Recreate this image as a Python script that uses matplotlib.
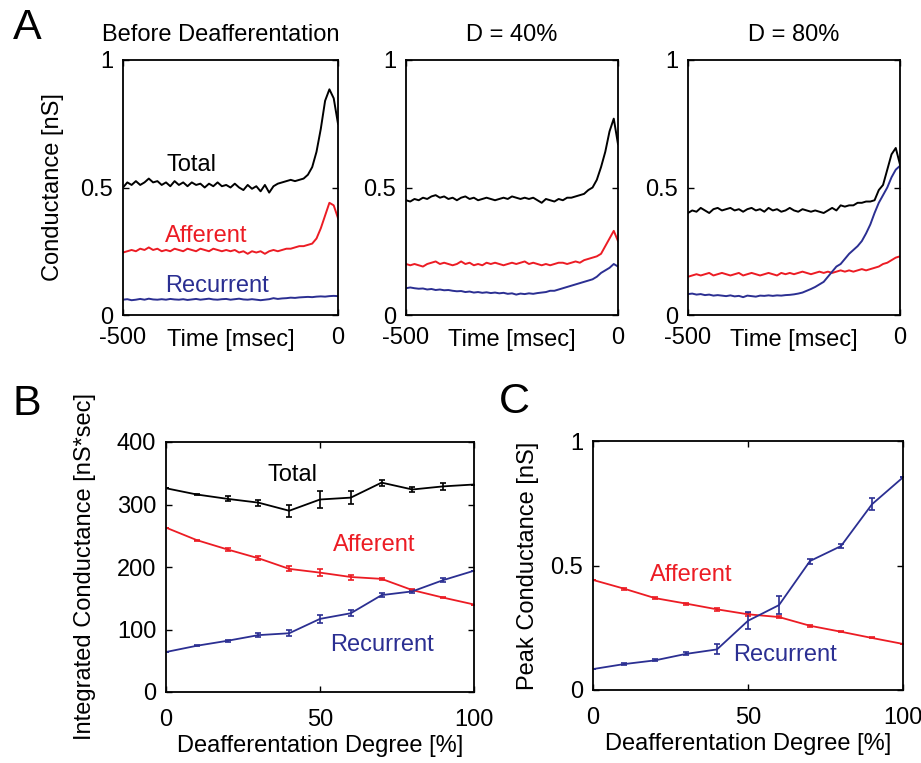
import numpy as np
import matplotlib
matplotlib.use('Agg')
import matplotlib.pyplot as plt

plt.rcParams['font.family'] = ['Liberation Sans', 'DejaVu Sans']
plt.rcParams['font.size'] = 17

RED = '#ec1c24'
BLUE = '#2b2f92'

# ---- panel A: conductance traces, sampled every 10 ms from -500 to 0 ----
t = list(range(-500, 1, 10))

total_pre = [0.50, 0.52, 0.51, 0.525, 0.51, 0.52, 0.535, 0.52, 0.525, 0.51,
             0.52, 0.505, 0.525, 0.51, 0.52, 0.505, 0.52, 0.51, 0.515, 0.50,
             0.515, 0.505, 0.52, 0.505, 0.51, 0.50, 0.515, 0.50, 0.49, 0.51,
             0.495, 0.505, 0.485, 0.51, 0.48, 0.505, 0.515, 0.52, 0.525, 0.53,
             0.525, 0.53, 0.535, 0.55, 0.58, 0.64, 0.73, 0.84, 0.885, 0.85, 0.75]
aff_pre = [0.245, 0.25, 0.255, 0.25, 0.26, 0.255, 0.265, 0.255, 0.26, 0.25,
           0.255, 0.25, 0.26, 0.255, 0.25, 0.26, 0.255, 0.25, 0.26, 0.255,
           0.25, 0.26, 0.255, 0.25, 0.255, 0.25, 0.255, 0.245, 0.25, 0.24,
           0.25, 0.245, 0.25, 0.24, 0.25, 0.255, 0.25, 0.255, 0.26, 0.26,
           0.265, 0.27, 0.27, 0.275, 0.28, 0.30, 0.34, 0.39, 0.44, 0.43, 0.38]
rec_pre = [0.06, 0.062, 0.058, 0.06, 0.063, 0.06, 0.064, 0.061, 0.06, 0.062,
           0.06, 0.063, 0.061, 0.06, 0.062, 0.059, 0.061, 0.063, 0.06, 0.062,
           0.064, 0.061, 0.06, 0.062, 0.063, 0.06, 0.062, 0.064, 0.061, 0.06,
           0.062, 0.06, 0.058, 0.06, 0.062, 0.066, 0.063, 0.065, 0.066, 0.068,
           0.067, 0.069, 0.07, 0.071, 0.07, 0.072, 0.073, 0.072, 0.074, 0.075, 0.074]

total_40 = [0.45, 0.445, 0.455, 0.45, 0.46, 0.455, 0.465, 0.47, 0.46, 0.465,
            0.455, 0.46, 0.45, 0.46, 0.465, 0.455, 0.46, 0.45, 0.455, 0.46,
            0.455, 0.45, 0.455, 0.46, 0.455, 0.465, 0.46, 0.455, 0.46, 0.455,
            0.46, 0.45, 0.44, 0.455, 0.45, 0.445, 0.455, 0.45, 0.46, 0.46,
            0.465, 0.47, 0.475, 0.49, 0.50, 0.53, 0.58, 0.64, 0.72, 0.77, 0.67]
aff_40 = [0.20, 0.195, 0.2, 0.195, 0.19, 0.2, 0.205, 0.21, 0.2, 0.205,
          0.2, 0.195, 0.2, 0.21, 0.2, 0.205, 0.195, 0.2, 0.195, 0.205,
          0.2, 0.205, 0.2, 0.195, 0.2, 0.205, 0.2, 0.205, 0.21, 0.2,
          0.205, 0.2, 0.195, 0.2, 0.195, 0.2, 0.205, 0.205, 0.2, 0.205,
          0.21, 0.205, 0.215, 0.22, 0.225, 0.23, 0.24, 0.27, 0.30, 0.33, 0.29]
rec_40 = [0.105, 0.108, 0.105, 0.103, 0.104, 0.1, 0.102, 0.098, 0.1, 0.097,
          0.098, 0.095, 0.093, 0.094, 0.09, 0.092, 0.088, 0.09, 0.087, 0.089,
          0.086, 0.088, 0.085, 0.087, 0.083, 0.085, 0.08, 0.084, 0.082, 0.085,
          0.083, 0.086, 0.088, 0.09, 0.095, 0.095, 0.1, 0.105, 0.11, 0.115,
          0.12, 0.125, 0.13, 0.135, 0.14, 0.15, 0.165, 0.175, 0.185, 0.2, 0.19]

total_80 = [0.40, 0.41, 0.405, 0.42, 0.41, 0.40, 0.415, 0.42, 0.41, 0.415,
            0.42, 0.41, 0.415, 0.405, 0.415, 0.42, 0.41, 0.415, 0.405, 0.42,
            0.41, 0.415, 0.405, 0.41, 0.42, 0.41, 0.405, 0.415, 0.41, 0.405,
            0.41, 0.405, 0.40, 0.41, 0.42, 0.41, 0.43, 0.425, 0.43, 0.43,
            0.44, 0.44, 0.445, 0.445, 0.45, 0.49, 0.51, 0.57, 0.63, 0.655, 0.59]
aff_80 = [0.15, 0.155, 0.16, 0.155, 0.16, 0.165, 0.155, 0.16, 0.165, 0.16,
          0.155, 0.16, 0.165, 0.155, 0.16, 0.165, 0.16, 0.155, 0.16, 0.165,
          0.16, 0.155, 0.165, 0.16, 0.165, 0.16, 0.165, 0.17, 0.165, 0.16,
          0.165, 0.17, 0.165, 0.17, 0.165, 0.17, 0.175, 0.17, 0.175, 0.17,
          0.175, 0.18, 0.175, 0.18, 0.185, 0.19, 0.2, 0.205, 0.215, 0.225, 0.23]
rec_80 = [0.082, 0.084, 0.08, 0.082, 0.078, 0.08, 0.076, 0.078, 0.076, 0.074,
          0.077, 0.073, 0.075, 0.07, 0.076, 0.074, 0.072, 0.076, 0.075, 0.077,
          0.075, 0.077, 0.076, 0.078, 0.079, 0.081, 0.084, 0.088, 0.095, 0.102,
          0.11, 0.12, 0.13, 0.15, 0.17, 0.19, 0.20, 0.22, 0.24, 0.255,
          0.27, 0.29, 0.32, 0.355, 0.40, 0.44, 0.47, 0.50, 0.54, 0.57, 0.585]

titles_a = ['Before Deafferentation', 'D = 40%', 'D = 80%']

# ---- panels B, C: vs deafferentation degree ----
degree = [0, 10, 20, 30, 40, 50, 60, 70, 80, 90, 100]

int_total = [326, 316, 309, 303, 290, 308, 311, 335, 324, 329, 332]
int_total_err = [0, 1, 4, 5, 10, 14, 10, 5, 4, 6, 0]
int_aff = [263, 243, 228, 214, 197, 191, 184, 181, 163, 151, 140]
int_aff_err = [0, 1, 2, 3, 4, 6, 4, 2, 2, 1, 0]
int_rec = [64, 74, 82, 91, 94, 117, 126, 155, 161, 179, 194]
int_rec_err = [0, 1, 2, 3, 5, 6, 5, 3, 2, 3, 0]

peak_aff = [0.442, 0.407, 0.369, 0.347, 0.324, 0.304, 0.293, 0.258, 0.234, 0.209, 0.185]
peak_aff_err = [0, 0.004, 0.004, 0.004, 0.005, 0.006, 0.005, 0.003, 0.003, 0.002, 0]
peak_rec = [0.084, 0.104, 0.119, 0.145, 0.163, 0.278, 0.341, 0.518, 0.578, 0.746, 0.854]
peak_rec_err = [0, 0.003, 0.004, 0.006, 0.02, 0.035, 0.037, 0.01, 0.008, 0.025, 0]

W, H = 921, 763
fig = plt.figure(figsize=(W / 100, H / 100), dpi=100)


def px_axes(x0, x1, y0, y1):
    return fig.add_axes([x0 / W, 1 - y1 / H, (x1 - x0) / W, (y1 - y0) / H])


def style(ax):
    for s in ax.spines.values():
        s.set_linewidth(1.3)
    ax.tick_params(direction='in', length=4, width=1, top=True, right=True,
                   labelsize=17, pad=7)


traces = [(total_pre, aff_pre, rec_pre), (total_40, aff_40, rec_40),
          (total_80, aff_80, rec_80)]
xs = [(123, 338), (406, 618), (688, 900)]
axA = []
for i, ((tot, aff, rec), (x0, x1)) in enumerate(zip(traces, xs)):
    ax = px_axes(x0, x1, 60, 315)
    ax.plot(t, tot, color='black', lw=1.4)
    ax.plot(t, aff, color=RED, lw=1.4)
    ax.plot(t, rec, color=BLUE, lw=1.4)
    ax.set_xlim(-500, 0)
    ax.set_ylim(0, 1)
    ax.set_xticks([-500, 0])
    ax.set_xticklabels(['-500', '0'])
    ax.set_yticks([0, 0.5, 1])
    ax.set_yticklabels(['0', '0.5', '1'])
    style(ax)
    ax.tick_params(axis='x', pad=9)
    ax.set_xlabel('Time [msec]', va='center')
    ax.xaxis.set_label_coords(0.5, -25 / 255)
    ax.set_title(titles_a[i], fontsize=17, pad=14)
    axA.append(ax)

axA[0].set_ylabel('Conductance [nS]', labelpad=12)
axA[0].title.set_x(0.456)
axA[0].text(-400, 0.59, 'Total', color='black', va='center', fontsize=17)
axA[0].text(-402, 0.31, 'Afferent', color=RED, va='center', fontsize=17)
axA[0].text(-402, 0.114, 'Recurrent', color=BLUE, va='center', fontsize=17)

eb = dict(lw=1.3, elinewidth=1.2, capsize=2.5, capthick=1.2)

# panel B
axB = px_axes(166, 474, 442, 692)
axB.errorbar(degree, int_total, yerr=int_total_err, color='black', **eb)
axB.errorbar(degree, int_aff, yerr=int_aff_err, color=RED, **eb)
axB.errorbar(degree, int_rec, yerr=int_rec_err, color=BLUE, **eb)
axB.set_xlim(0, 100)
axB.set_ylim(0, 400)
axB.set_xticks([0, 50, 100])
axB.set_yticks([0, 100, 200, 300, 400])
style(axB)
axB.tick_params(axis='x', pad=12)
axB.set_xlabel('Deafferentation Degree [%]', labelpad=3)
axB.set_ylabel('Integrated Conductance [nS*sec]', labelpad=15)
axB.text(32.8, 347, 'Total', color='black', va='center', fontsize=17)
axB.text(54.2, 235, 'Afferent', color=RED, va='center', fontsize=17)
axB.text(53.2, 75, 'Recurrent', color=BLUE, va='center', fontsize=17)

# panel C
axC = px_axes(593, 903, 441, 690)
axC.errorbar(degree, peak_aff, yerr=peak_aff_err, color=RED, **eb)
axC.errorbar(degree, peak_rec, yerr=peak_rec_err, color=BLUE, **eb)
axC.set_xlim(0, 100)
axC.set_ylim(0, 1)
axC.set_xticks([0, 50, 100])
axC.set_yticks([0, 0.5, 1])
axC.set_yticklabels(['0', '0.5', '1'])
style(axC)
axC.tick_params(axis='x', pad=12)
axC.set_xlabel('Deafferentation Degree [%]', labelpad=3)
axC.set_ylabel('Peak Conductance [nS]', labelpad=8)
axC.text(18.4, 0.462, 'Afferent', color=RED, va='center', fontsize=17)
axC.text(45.2, 0.14, 'Recurrent', color=BLUE, va='center', fontsize=17)

# panel letters
fig.text(13 / W, 1 - 28 / H, 'A', fontsize=31, va='center')
fig.text(13 / W, 1 - 404 / H, 'B', fontsize=31, va='center')
fig.text(499 / W, 1 - 402 / H, 'C', fontsize=31, va='center')

fig.savefig('out.png', dpi=100)
